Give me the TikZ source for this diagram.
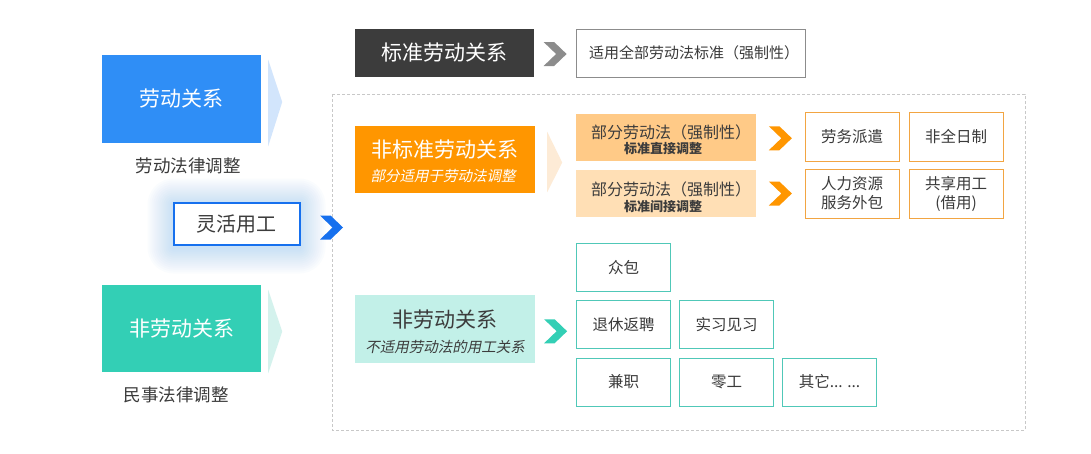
\documentclass[tikz,border=0pt]{standalone}
\usepackage{fontspec}
\setmainfont{Noto Sans CJK SC}
\newfontfamily\cjkit[FakeSlant=0.2]{Noto Sans CJK SC}
\usetikzlibrary{calc}
\definecolor{cblue}{HTML}{2F8EF6}
\definecolor{cblueline}{HTML}{1670EE}
\definecolor{cbluepale}{HTML}{D2E5FC}
\definecolor{cteal}{HTML}{33CFB5}
\definecolor{ctealpale}{HTML}{D4F2ED}
\definecolor{ctealbox}{HTML}{C2F0E8}
\definecolor{ctealline}{HTML}{50C8B8}
\definecolor{corange}{HTML}{FF9600}
\definecolor{corangepale}{HTML}{FDEBD6}
\definecolor{corangeline}{HTML}{F2A542}
\definecolor{cp1}{HTML}{FFCA87}
\definecolor{cp2}{HTML}{FFDFB5}
\definecolor{cdark}{HTML}{3C3C3C}
\definecolor{cgrayline}{HTML}{8C8C8C}
\definecolor{cdash}{HTML}{C8C8C8}
\definecolor{ctext}{HTML}{3A3A3A}
\tikzset{
  box/.style={rectangle, inner sep=0pt, align=center},
  bigtxt/.style={font=\fontsize{21}{25}\selectfont},
  smalltxt/.style={font=\fontsize{15.5}{19}\selectfont, text=ctext},
  lbl/.style={inner sep=0pt, align=center},
  obox/.style={box, draw=corangeline, line width=1pt, fill=white, minimum width=94pt, minimum height=49pt, smalltxt},
  tbox/.style={box, draw=ctealline, line width=1pt, fill=white, minimum width=94pt, minimum height=48pt, smalltxt},
  pbox/.style={box, minimum width=180pt, minimum height=47pt},
  chev/.pic={\fill[pic actions] (-11.5,-12)--(-1,-12)--(11.5,0)--(-1,12)--(-11.5,12)--(1,0)--cycle;}
}
\begin{document}
\begin{tikzpicture}[x=1pt,y=-1pt]
\useasboundingbox[fill=white] (0,0) rectangle (1091,453);
% dashed frame
\draw[cdash, line width=0.8pt, dash pattern=on 3pt off 2pt] (332,94) rectangle (1025,430);

% left column
\node[box, fill=cblue, text=white, bigtxt, minimum width=159pt, minimum height=88pt] (lr) at (181.5,99) {劳动关系};
\node[font=\fontsize{17.5}{20}\selectfont, text=ctext] (lrt) at (188,166) {劳动法律调整};
\fill[cbluepale] ($(lr.north east)+(7,5)$) -- ($(lr.east)+(21,3)$) -- ($(lr.south east)+(7,3)$) -- cycle;

% glow behind the flexible-employment box
\coordinate (lhc) at (236.5,223.5);
\foreach \d in {2,4,...,26} {
  \fill[cblue, opacity=0.018, rounded corners=\d pt] ($(lhc)+(-63-\d,-21-\d+2)$) rectangle ($(lhc)+(63+\d,21+\d+3)$);
}
\node[box, fill=white, draw=cblueline, line width=2pt, minimum width=126pt, minimum height=42pt, font=\fontsize{20}{24}\selectfont, text=cdark] (lh) at (lhc) {灵活用工};
\pic[fill=cblueline] at ($(lh.east)+(31,4)$) {chev};

\node[box, fill=cteal, text=white, bigtxt, minimum width=159pt, minimum height=87pt] (flr) at (181.5,328.5) {非劳动关系};
\node[font=\fontsize{17.5}{20}\selectfont, text=ctext] (flrt) at (176,395) {民事法律调整};
\fill[ctealpale] ($(flr.north east)+(7,5)$) -- ($(flr.east)+(21,3)$) -- ($(flr.south east)+(7,1)$) -- cycle;

% standard labour relation
\node[box, fill=cdark, text=white, bigtxt, minimum width=179pt, minimum height=48pt] (std) at (444.5,53) {标准劳动关系};
\node[box, draw=cgrayline, line width=1pt, fill=white, minimum width=229pt, minimum height=48pt] (stdd) at (691,53) {};
\node[lbl, font=\fontsize{15}{18}\selectfont, text=ctext] (stddA) at ($(stdd.center)+(3,0)$) {适用全部劳动法标准（强制性）};
\pic[fill=cgrayline] at ($(std.east)!0.5!(stdd.west)+(0,1)$) {chev};

% non-standard
\node[box, fill=corange, minimum width=180pt, minimum height=67pt] (nstd) at (445,159.5) {};
\node[lbl, text=white, font=\fontsize{21}{24}\selectfont] (nstdA) at ($(nstd.center)+(0,-9.5)$) {非标准劳动关系};
\node[lbl, text=white, font=\cjkit\fontsize{14.5}{16}\selectfont] (nstdB) at ($(nstd.center)+(-2,16.5)$) {部分适用于劳动法调整};
\fill[corangepale] ($(nstd.north east)+(12,6)$) -- ($(nstd.east)+(27,3)$) -- ($(nstd.south east)+(12,-1)$) -- cycle;

\node[pbox, fill=cp1] (p1) at (666,137) {};
\node[lbl, text=cdark, font=\fontsize{16}{18}\selectfont] (p1A) at ($(p1.center)+(5,-5)$) {部分劳动法（强制性）};
\node[lbl, text=cdark, font=\bfseries\fontsize{13}{15}\selectfont] (p1B) at ($(p1.center)+(-3,12)$) {标准直接调整};
\node[pbox, fill=cp2] (p2) at (666,193.5) {};
\node[lbl, text=cdark, font=\fontsize{16}{18}\selectfont] (p2A) at ($(p2.center)+(5,-4)$) {部分劳动法（强制性）};
\node[lbl, text=cdark, font=\bfseries\fontsize{13}{15}\selectfont] (p2B) at ($(p2.center)+(-3,13)$) {标准间接调整};

\node[obox] (o1) at (852,136.5) {劳务派遣};
\node[obox] (o2) at (956,136.5) {非全日制};
\node[obox] (o3) at (852,193.5) {人力资源\\服务外包};
\node[obox] (o4) at (956,193.5) {共享用工\\(借用)};
\pic[fill=corange] at ($(p1.east)!0.5!(o1.west)+(0,1.5)$) {chev};
\pic[fill=corange] at ($(p2.east)!0.5!(o3.west)$) {chev};

% non-labour
\node[box, fill=ctealbox, minimum width=180pt, minimum height=68pt] (nlr) at (445,329) {};
\node[lbl, text=cdark, font=\fontsize{21}{24}\selectfont] (nlrA) at ($(nlr.center)+(0,-9)$) {非劳动关系};
\node[lbl, text=cdark, font=\cjkit\fontsize{14.5}{16}\selectfont] (nlrB) at ($(nlr.center)+(0,18)$) {不适用劳动法的用工关系};

\node[tbox] (t1) at (623.5,267.5) {众包};
\node[tbox] (t2) at (623.5,324.5) {退休返聘};
\node[tbox] (t3) at (726.5,324.5) {实习见习};
\node[tbox] (t4) at (623.5,382) {兼职};
\node[tbox] (t5) at (726.5,382) {零工};
\node[tbox] (t6) at (829.5,382) {其它... ...};
\pic[fill=cteal] at ($(nlr.east)!0.5!(t2.west)+(0,4.5)$) {chev};
\end{tikzpicture}
\end{document}
